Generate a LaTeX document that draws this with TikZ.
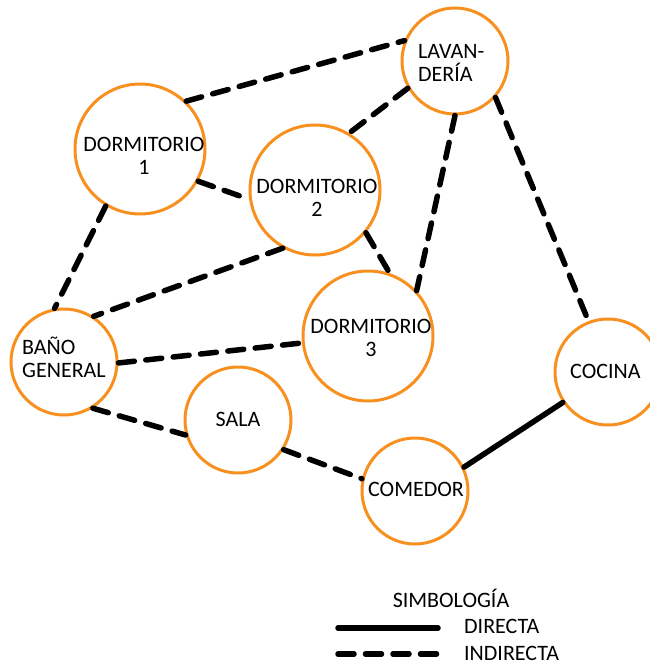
\documentclass[tikz,border=0pt]{standalone}
\usepackage{fontspec}
\setmainfont{Carlito}
\definecolor{ring}{HTML}{F7901E}
\begin{document}
\begin{tikzpicture}[x=1pt,y=-1pt,
  room/.style={circle,draw=ring,line width=3pt,fill=white,inner sep=0pt,
     font=\fontsize{22}{23}\selectfont,align=center},
  big/.style={room,minimum size=130pt},
  small/.style={room,minimum size=106pt},
  indirecta/.style={line width=5.5pt,line cap=round,dash pattern=on 16pt off 11.5pt},
  directa/.style={line width=5.5pt,line cap=round},
  lbl/.style={font=\fontsize{22}{23}\selectfont,inner sep=0pt}]
\useasboundingbox (0,0) rectangle (649,664);
% rooms
\node[small] (lav) at (455,61) {};
\node[big] (d1) at (140,149) {};
\node[big] (d2) at (315,190) {};
\node[big] (d3) at (368,336) {};
\node[small] (bano) at (64,362) {};
\node[small] (coc) at (608,372) {};
\node[small] (sala) at (238,420) {};
\node[small] (com) at (415,491) {};
% connectors
\draw[indirecta] (d1.46.8) -- (lav.158.8);
\draw[indirecta] (lav.210.6) -- (d2.59);
\draw[indirecta] (lav.270) -- (d3.43.7);
\draw[indirecta] (lav.-42) -- (coc.111);
\draw[indirecta] (d1.-29.6) -- (d2.188.3);
\draw[indirecta] (d1.239.5) -- (bano.100.2);
\draw[indirecta] (d2.241.5) -- (bano.57.5);
\draw[indirecta] (d2.-40.6) -- (d3.71.8);
\draw[indirecta] (bano.-1.1) -- (d3.186.2);
\draw[indirecta] (bano.-58) -- (sala.196.7);
\draw[indirecta] (sala.-33.7) -- (com.167.8);
\draw[directa] (com.26) -- (coc.214.9);
% labels
\node[lbl,anchor=west,align=left] (tlav) at (418,63) {LAVAN-\\DERÍA};
\node[lbl,align=center] (td1) at (144,156) {DORMITORIO\\1};
\node[lbl,align=center] (td2) at (317,198) {DORMITORIO\\2};
\node[lbl,align=center] (td3) at (371,338) {DORMITORIO\\3};
\node[lbl,anchor=west,align=left] (tbano) at (22,357) {BAÑO\\GENERAL};
\node[lbl] (tsala) at (238,419) {SALA};
\node[lbl] (tcom) at (416,489) {COMEDOR};
\node[lbl,anchor=west] (tcoc) at (570,371) {COCINA};
% legend
\node[lbl] (tsim) at (451,598) {SIMBOLOGÍA};
\node[lbl,anchor=west] (tdir) at (464,626) {DIRECTA};
\node[lbl,anchor=west] (tind) at (464,653) {INDIRECTA};
\coordinate (s1) at (338,628);
\coordinate (s2) at (438,628);
\coordinate (i1) at (338,654);
\coordinate (i2) at (438,654);
\draw[directa] (s1) -- (s2);
\draw[indirecta] (i1) -- (i2);
\end{tikzpicture}
\end{document}
